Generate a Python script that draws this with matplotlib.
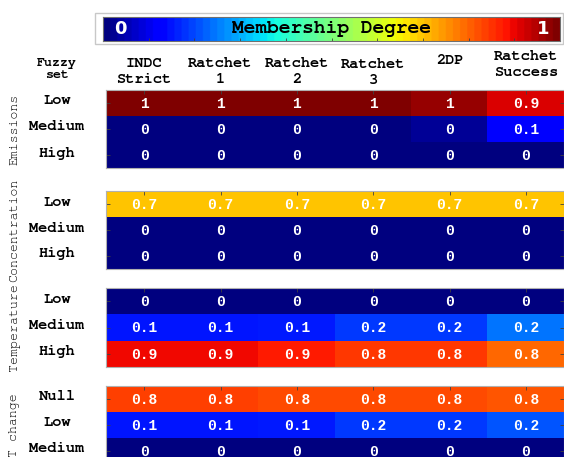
import numpy as np
import matplotlib
matplotlib.use("Agg")
import matplotlib.pyplot as plt
from matplotlib import font_manager
from matplotlib.patches import Rectangle

# scenarios (columns) and fuzzy sets (rows)
scenarios = ["INDC\nStrict", "Ratchet\n1", "Ratchet\n2", "Ratchet\n3", "2DP", "Ratchet\nSuccess"]
groups = ["Emissions", "Concentration", "Temperature", "T change"]
fuzzy_sets = [["Low", "Medium", "High"],
              ["Low", "Medium", "High"],
              ["Low", "Medium", "High"],
              ["Null", "Low", "Medium"]]

# membership degrees per group, one row per fuzzy set
emissions = [[1.00, 1.00, 1.00, 1.00, 0.98, 0.92],
             [0.00, 0.00, 0.00, 0.00, 0.02, 0.12],
             [0.00, 0.00, 0.00, 0.00, 0.00, 0.00]]
concentration = [[0.70, 0.70, 0.70, 0.70, 0.70, 0.70],
                 [0.00, 0.00, 0.00, 0.00, 0.00, 0.00],
                 [0.00, 0.00, 0.00, 0.00, 0.00, 0.00]]
temperature = [[0.00, 0.00, 0.00, 0.00, 0.00, 0.00],
               [0.148, 0.148, 0.149, 0.18, 0.18, 0.24],
               [0.90, 0.90, 0.88, 0.849, 0.849, 0.80]]
t_change = [[0.84, 0.84, 0.83, 0.83, 0.83, 0.82],
            [0.148, 0.148, 0.149, 0.18, 0.18, 0.21],
            [0.00, 0.00, 0.00, 0.00, 0.00, 0.00]]
blocks = [emissions, concentration, temperature, t_change]


def pick_font(names):
    installed = {f.name for f in font_manager.fontManager.ttflist}
    for n in names:
        if n in installed:
            return n
    return "DejaVu Sans Mono"


MONO_SERIF = pick_font(["Courier New", "Nimbus Mono PS", "Nimbus Mono L", "FreeMono", "Liberation Mono"])
MONO_SANS = pick_font(["Liberation Mono", "DejaVu Sans Mono"])

W, H = 564, 457
fig = plt.figure(figsize=(W / 100, H / 100), dpi=100)
fig.patch.set_facecolor("white")


def fx(px):
    return px / W


def fy(py):
    return 1 - py / H


def cell_label(v):
    # one decimal, but whole numbers without the ".0"
    return f"{round(v, 1):g}"


cmap = plt.get_cmap("jet")

# --- colour scale on top ---
fig.patches.append(Rectangle((fx(95), fy(44)), fx(468), 31 / H, transform=fig.transFigure,
                             fill=False, edgecolor="#c8c8c8", lw=1.0))
cax = fig.add_axes([fx(103), fy(41), fx(457), 24 / H])
grad = np.linspace(0, 1, 256).reshape(1, -1)
cax.imshow(grad, aspect="auto", cmap=plt.get_cmap("jet", 64), extent=[0, 1, 0, 1], vmin=0, vmax=1)
cax.set_xlim(0, 1)
cax.set_ylim(0, 1)
cax.set_xticks(np.arange(0.1, 1.0, 0.1))
cax.set_yticks([])
cax.tick_params(axis="x", direction="in", length=2.5, width=0.6, color="#404040", labelbottom=False)
for s in cax.spines.values():
    s.set_edgecolor("#707070")
    s.set_linewidth(0.8)
cax.text(0.5, 0.5, "Membership Degree", transform=cax.transAxes, ha="center", va="center",
         family=MONO_SERIF, fontweight="bold", fontsize=14, color="black")
cax.text((120 - 103) / 457, 0.5, "0", transform=cax.transAxes, ha="center", va="center",
         family="DejaVu Sans", fontweight="bold", fontsize=13, color="white")
cax.text((543 - 103) / 457, 0.5, "1", transform=cax.transAxes, ha="center", va="center",
         family="DejaVu Sans", fontweight="bold", fontsize=13, color="white")

# --- column headers ---
header_y = [71.5, 71.5, 71.5, 73, 60, 65]
left, right = 106, 564
col_w = (right - left) / len(scenarios)
for i, (name, yy) in enumerate(zip(scenarios, header_y)):
    fig.text(fx(left + col_w * (i + 0.5)), fy(yy), name, ha="center", va="center",
             family=MONO_SERIF, fontweight="bold", fontsize=11, linespacing=1.3)
fig.text(fx(57), fy(69.5), "Fuzzy\nset", ha="center", va="center",
         family=MONO_SERIF, fontweight="bold", fontsize=9.5, linespacing=1.2)

# --- heatmap blocks ---
block_px = [(90, 168), (191, 269), (288, 367), (386, 464)]
for vals, sets, grp, (top, bot) in zip(blocks, fuzzy_sets, groups, block_px):
    data = np.array(vals)
    ax = fig.add_axes([fx(left), fy(bot), fx(right - left), (bot - top) / H])
    ax.imshow(data, cmap=cmap, vmin=0, vmax=1, aspect="auto", interpolation="nearest")
    for r in range(data.shape[0]):
        for c in range(data.shape[1]):
            ax.text(c, r + 0.03, cell_label(data[r, c]),
                    ha="center", va="center", color="white", family=MONO_SANS,
                    fontweight="bold", fontsize=10.5)
    ax.set_xticks(range(data.shape[1]))
    ax.set_yticks(range(data.shape[0]))
    ax.tick_params(direction="in", length=3, width=0.6, color="#404040",
                   top=True, bottom=False, right=True, left=True,
                   labelbottom=False, labelleft=False)
    for s in ax.spines.values():
        s.set_edgecolor("#b0b0b0")
        s.set_linewidth(0.8)

    row_h = (bot - top) / 3
    for r, lab in enumerate(sets):
        fig.text(fx(57), fy(top + row_h * (r + 0.5) - 2), lab, ha="center", va="center",
                 family=MONO_SERIF, fontweight="bold", fontsize=11)
    fig.text(fx(15), fy((top + bot) / 2), grp, ha="center", va="center", rotation=90,
             family=MONO_SERIF, fontsize=9.5)

fig.savefig("out.png", dpi=100, facecolor="white")
